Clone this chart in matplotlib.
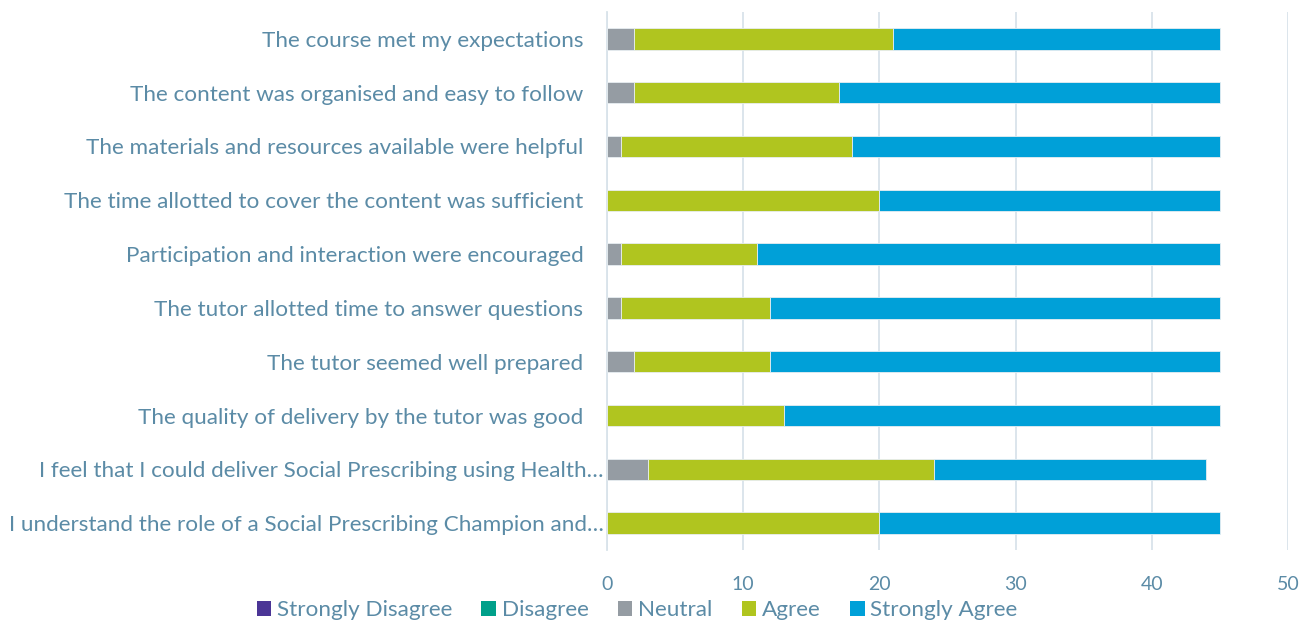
import matplotlib
matplotlib.use("Agg")
import matplotlib.pyplot as plt
import numpy as np

categories = [
    "The course met my expectations",
    "The content was organised and easy to follow",
    "The materials and resources available were helpful",
    "The time allotted to cover the content was sufficient",
    "Participation and interaction were encouraged",
    "The tutor allotted time to answer questions",
    "The tutor seemed well prepared",
    "The quality of delivery by the tutor was good",
    "I feel that I could deliver Social Prescribing using Health\u2026",
    "I understand the role of a Social Prescribing Champion and\u2026",
]
strongly_disagree = [0, 0, 0, 0, 0, 0, 0, 0, 0, 0]
disagree = [0, 0, 0, 0, 0, 0, 0, 0, 0, 0]
neutral = [2, 2, 1, 0, 1, 1, 2, 0, 3, 0]
agree = [19, 15, 17, 20, 10, 11, 10, 13, 21, 20]
strongly_agree = [24, 28, 27, 25, 34, 33, 33, 32, 20, 25]
series_names = ["Strongly Disagree", "Disagree", "Neutral", "Agree", "Strongly Agree"]
x_ticks = [0, 10, 20, 30, 40, 50]

colors = ["#4b3596", "#00a08a", "#959ca3", "#b0c51f", "#00a0d8"]
text_color = "#5b8ba6"
plt.rcParams['font.family'] = ['Lato', 'DejaVu Sans']

fig = plt.figure(figsize=(13.15, 6.24), dpi=100)
ax = fig.add_axes([607/1315, 1 - 550/624, (1288 - 607)/1315, (550 - 12)/624])

series = [strongly_disagree, disagree, neutral, agree, strongly_agree]
y = np.arange(len(categories))
left = np.zeros(len(categories))
handles = []
for name, vals, c in zip(series_names, series, colors):
    vals = np.array(vals, dtype=float)
    b = ax.barh(y, vals, left=left, height=0.4, color=c, edgecolor="#e8eef2",
                linewidth=0.6, label=name, zorder=3)
    handles.append(b)
    left += vals

ax.set_ylim(len(categories) - 0.5, -0.5)
ax.set_xlim(0, 50)
ax.set_xticks(x_ticks)
ax.set_xticklabels([str(t) for t in x_ticks])
ax.set_yticks(y)
ax.set_yticklabels(categories)
ax.tick_params(axis='y', length=0, pad=17, labelsize=16.2, labelcolor=text_color)
ax.tick_params(axis='x', length=0, pad=19, labelsize=14, labelcolor=text_color)
for i, tk in enumerate(ax.yaxis.get_major_ticks()):
    if categories[i].endswith("\u2026"):
        tk.set_pad(2.5)
ax.grid(axis='x', color="#d9e3ea", linewidth=1.3, zorder=0)
for s in ["top", "right", "bottom"]:
    ax.spines[s].set_visible(False)
ax.spines["left"].set_color("#d9e3ea")
ax.spines["left"].set_linewidth(1.3)

leg = fig.legend(handles=handles, labels=series_names, loc="center",
                 bbox_to_anchor=(637/1315, 1 - 610/624), ncol=5, frameon=False,
                 fontsize=16.2, handlelength=0.65, handleheight=0.65,
                 handletextpad=0.25, columnspacing=1.3)
for t in leg.get_texts():
    t.set_color(text_color)
for h in leg.legend_handles:
    h.set_edgecolor("none")

fig.savefig("out.png", dpi=100)
